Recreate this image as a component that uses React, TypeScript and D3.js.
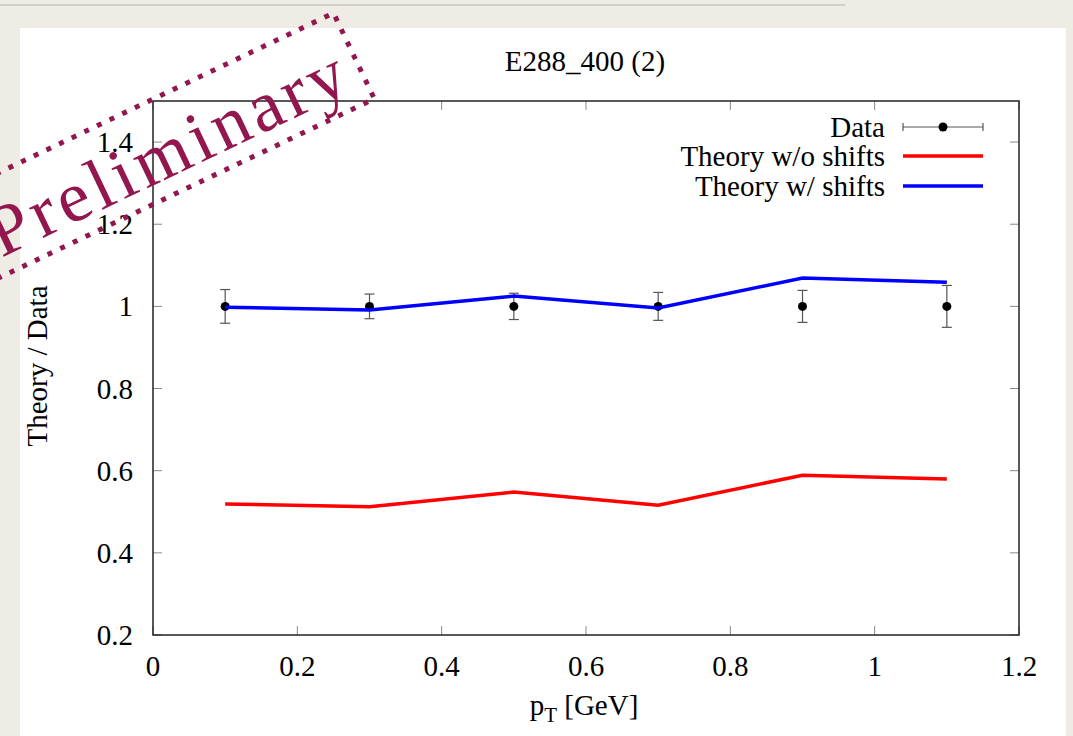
import React, { useEffect, useRef } from 'react';
import * as d3 from 'd3';

// values
const ptValues = [0.1, 0.3, 0.5, 0.7, 0.9, 1.1];
const dataValues = [1, 1, 1, 1, 1, 1];
const dataErrors = [0.041, 0.03, 0.032, 0.034, 0.039, 0.051];
const theoryNoShifts = [0.519, 0.512, 0.548, 0.516, 0.589, 0.58];
const theoryShifts = [0.998, 0.991, 1.025, 0.996, 1.069, 1.059];
const xTicks = [0, 0.2, 0.4, 0.6, 0.8, 1, 1.2];
const yTicks = [0.2, 0.4, 0.6, 0.8, 1, 1.2, 1.4];
const legendLabels = ['Data', 'Theory w/o shifts', 'Theory w/ shifts'];
const lineColors = ['#ff0000', '#0000ff'];

export default function App() {
    const svgRef = useRef<SVGSVGElement>(null);

    const width = 1073;
    const height = 736;
    const frame = { left: 153, right: 1019, top: 101, bottom: 635 };
    const serif = '"Liberation Serif", "Times New Roman", serif';
    const fs = '29px';

    useEffect(() => {
        const svg = d3.select(svgRef.current);
        svg.selectAll('*').remove();

        // slide background
        svg.append('rect').attr('width', width).attr('height', height).attr('fill', '#efece6');
        svg.append('line')
            .attr('x1', 0).attr('x2', 845).attr('y1', 5).attr('y2', 5)
            .attr('stroke', '#d3d0ca').attr('stroke-width', 2);
        svg.append('rect')
            .attr('x', 20).attr('y', 28).attr('width', 1046).attr('height', height - 28)
            .attr('fill', '#ffffff');

        const x = d3.scaleLinear().domain([0, 1.2]).range([frame.left, frame.right]);
        const y = d3.scaleLinear().domain([0.2, 1.5]).range([frame.bottom, frame.top]);

        const g = svg.append('g');

        // ticks, mirrored on all four sides, pointing inward
        const tickLen = 9;
        const tickG = g.append('g').attr('stroke', '#888').attr('stroke-width', 1);
        xTicks.forEach(t => {
            tickG.append('line').attr('x1', x(t)).attr('x2', x(t))
                .attr('y1', frame.bottom).attr('y2', frame.bottom - tickLen);
            tickG.append('line').attr('x1', x(t)).attr('x2', x(t))
                .attr('y1', frame.top).attr('y2', frame.top + tickLen);
        });
        yTicks.forEach(t => {
            tickG.append('line').attr('y1', y(t)).attr('y2', y(t))
                .attr('x1', frame.left).attr('x2', frame.left + tickLen);
            tickG.append('line').attr('y1', y(t)).attr('y2', y(t))
                .attr('x1', frame.right).attr('x2', frame.right - tickLen);
        });

        const fmt = (v: number) => String(Math.round(v * 10) / 10);

        g.selectAll('.xlab')
            .data(xTicks)
            .enter()
            .append('text')
            .attr('x', d => x(d))
            .attr('y', 676)
            .attr('text-anchor', 'middle')
            .style('font-family', serif)
            .style('font-size', fs)
            .text(d => fmt(d));

        g.selectAll('.ylab')
            .data(yTicks)
            .enter()
            .append('text')
            .attr('x', 133)
            .attr('y', d => y(d) + 10)
            .attr('text-anchor', 'end')
            .style('font-family', serif)
            .style('font-size', fs)
            .text(d => fmt(d));

        // title and axis labels
        g.append('text')
            .attr('x', 585).attr('y', 71)
            .attr('text-anchor', 'middle')
            .style('font-family', serif).style('font-size', fs)
            .text('E288_400 (2)');

        const xl = g.append('text')
            .attr('x', 584).attr('y', 715)
            .attr('text-anchor', 'middle')
            .style('font-family', serif).style('font-size', fs);
        xl.append('tspan').text('p');
        xl.append('tspan').attr('dy', 7).style('font-size', '21px').text('T');
        xl.append('tspan').attr('dy', -7).text(' [GeV]');

        g.append('text')
            .attr('transform', 'translate(47, 366) rotate(-90)')
            .attr('text-anchor', 'middle')
            .style('font-family', serif).style('font-size', fs)
            .text('Theory / Data');

        // data points with error bars
        const pts = ptValues.map((p, i) => ({ p, v: dataValues[i], e: dataErrors[i] }));
        const dataG = g.append('g');
        pts.forEach(d => {
            const cx = x(d.p);
            dataG.append('line').attr('x1', cx).attr('x2', cx)
                .attr('y1', y(d.v - d.e)).attr('y2', y(d.v + d.e))
                .attr('stroke', '#555').attr('stroke-width', 1.2);
            [d.v - d.e, d.v + d.e].forEach(w => {
                dataG.append('line').attr('x1', cx - 5).attr('x2', cx + 5)
                    .attr('y1', y(w)).attr('y2', y(w))
                    .attr('stroke', '#555').attr('stroke-width', 1.2);
            });
            dataG.append('circle').attr('cx', cx).attr('cy', y(d.v)).attr('r', 4.5).attr('fill', '#000');
        });

        // theory curves
        const line = d3.line<number>()
            .x((d, i) => x(ptValues[i]))
            .y(d => y(d));

        [theoryNoShifts, theoryShifts].forEach((series, k) => {
            g.append('path')
                .datum(series)
                .attr('d', line)
                .attr('fill', 'none')
                .attr('stroke', lineColors[k])
                .attr('stroke-width', 3.5)
                .attr('stroke-linejoin', 'miter');
        });

        // frame
        g.append('rect')
            .attr('x', frame.left).attr('y', frame.top)
            .attr('width', frame.right - frame.left).attr('height', frame.bottom - frame.top)
            .attr('fill', 'none').attr('stroke', '#222').attr('stroke-width', 1.5);

        // legend
        const rowY = [127, 156, 186];
        const leg = g.append('g');
        legendLabels.forEach((label, i) => {
            leg.append('text')
                .attr('x', 885).attr('y', rowY[i] + 10)
                .attr('text-anchor', 'end')
                .style('font-family', serif).style('font-size', fs)
                .text(label);
        });
        leg.append('line').attr('x1', 903).attr('x2', 983).attr('y1', rowY[0]).attr('y2', rowY[0])
            .attr('stroke', '#555').attr('stroke-width', 1.2);
        [903, 983].forEach(cx => {
            leg.append('line').attr('x1', cx).attr('x2', cx).attr('y1', rowY[0] - 4).attr('y2', rowY[0] + 4)
                .attr('stroke', '#555').attr('stroke-width', 1.2);
        });
        leg.append('circle').attr('cx', 943).attr('cy', rowY[0]).attr('r', 4.5).attr('fill', '#000');
        lineColors.forEach((c, k) => {
            leg.append('line').attr('x1', 903).attr('x2', 983)
                .attr('y1', rowY[k + 1]).attr('y2', rowY[k + 1])
                .attr('stroke', c).attr('stroke-width', 3.5);
        });

        // "Preliminary" stamp
        const stamp = svg.append('g')
            .attr('transform', 'translate(173, 176) rotate(-25.5)');
        stamp.append('rect')
            .attr('x', -215).attr('y', -78).attr('width', 430).attr('height', 95)
            .attr('fill', 'none')
            .attr('stroke', '#92174f')
            .attr('stroke-width', 5)
            .attr('stroke-dasharray', '5 9');
        stamp.append('text')
            .attr('x', -190).attr('y', 0)
            .attr('textLength', 388)
            .attr('lengthAdjust', 'spacing')
            .attr('fill', '#92174f')
            .style('font-family', serif)
            .style('font-size', '72px')
            .text('Preliminary');
    }, []);

    return (
        <div style={{ position: 'fixed', left: 0, top: 0 }}>
            <svg ref={svgRef} width={width} height={height} style={{ display: 'block' }}></svg>
        </div>
    );
}
